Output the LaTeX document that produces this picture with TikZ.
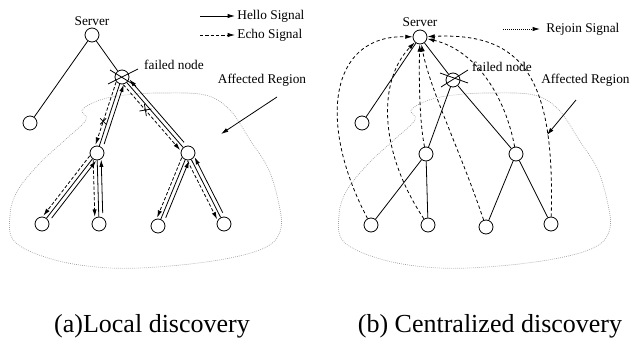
\documentclass[tikz,border=0pt]{standalone}
\usepackage{fontspec}
\setmainfont{Liberation Serif}
\usetikzlibrary{arrows.meta,calc}

\tikzset{every picture/.style={line width=0.6pt}}
\tikzset{
  tnode/.style={draw,circle,minimum size=10.5pt,inner sep=0pt},
  lbl/.style={inner sep=0.75pt,font=\fontsize{10}{12}\selectfont},
  captxt/.style={inner sep=0.75pt,font=\fontsize{19.5}{23}\selectfont},
  hello/.style={-{Latex[length=5.5pt,width=3.2pt]}},
  echo/.style={-{Latex[length=5.5pt,width=3.2pt]},dash pattern=on 2.5pt off 1.5pt},
  rejoin/.style={-{Latex[length=5.5pt,width=3.2pt]},dash pattern=on 2.5pt off 2pt},
  rejoinkey/.style={-{Latex[length=5.5pt,width=3.2pt]},dash pattern=on 0.7pt off 0.8pt},
  region/.style={gray!75,dash pattern=on 0.6pt off 0.9pt,line width=0.5pt},
}

% tree edge with hello (up) and echo (down) signals beside it
\newcommand{\sigpair}[3][0.5]{%
  \draw (#2) -- (#3);
  \draw[hello,shorten <=8pt,shorten >=5pt] ($(#3)!3pt!90:(#2)$) -- ($(#2)!3pt!-90:(#3)$);
  \draw[echo,shorten <=5pt,shorten >=5.5pt] ($(#2)!3pt!90:(#3)$) -- coordinate[pos=#1] (#2#3) ($(#3)!3pt!-90:(#2)$);
}
\newcommand{\regionpts}{(160,93) (205,95) (230,110) (250,140) (268,168) (278,200) (281,228) (268,246) (230,258) (170,266) (110,268) (55,260) (15,242) (10,215) (18,190) (40,163) (65,140) (86,120) (82,110) (100,100) (125,95)}

\begin{document}
\begin{tikzpicture}[x=0.75pt,y=0.75pt,yscale=-1,xscale=1]
	\useasboundingbox (0,0) rectangle (632,346);

	% (a) local discovery
	\draw[region] plot[smooth cycle,tension=0.6] coordinates {\regionpts};
	\node[tnode] (srvA) at (92,35) {};
	\node[tnode] (leafA0) at (30,123) {};
	\node[tnode] (failA) at (122,77) {};
	\node[tnode] (midA1) at (97,153) {};
	\node[tnode] (midA2) at (188,153) {};
	\node[tnode] (leafA1) at (42,224) {};
	\node[tnode] (leafA2) at (99,224) {};
	\node[tnode] (leafA3) at (158,226) {};
	\node[tnode] (leafA4) at (224,224) {};

	\draw (srvA) -- (leafA0);
	\draw (srvA) -- (failA);
	\draw ($(failA)+(-14,7)$) -- ($(failA)+(16,-8)$);
	\draw ($(failA)+(-12,-7)$) -- ($(failA)+(14,9)$);
	\sigpair[0.6]{failA}{midA1}
	\sigpair[0.4]{failA}{midA2}
	\sigpair{midA1}{leafA1}
	\sigpair{midA1}{leafA2}
	\sigpair{midA2}{leafA3}
	\sigpair{midA2}{leafA4}
	\draw ($(failAmidA1)+(-3,-3)$) -- ($(failAmidA1)+(3,3)$) ($(failAmidA1)+(-3,3)$) -- ($(failAmidA1)+(3,-3)$);
	\draw ($(failAmidA2)+(-6,1)$) -- ($(failAmidA2)+(6,-1)$) ($(failAmidA2)+(-1,-6)$) -- ($(failAmidA2)+(1,6)$);

	\node[lbl] (srvAlbl) at (92,21) {Server};
	\node[lbl] (failAlbl) at (174,65) {failed node};
	\node[lbl] (regAlbl) at (262,80) {Affected Region};
	\coordinate (regAs) at (277,97);
	\coordinate (regAe) at (221,134);
	\draw[hello] (regAs) -- (regAe);

	\coordinate (helloS) at (200,16);
	\coordinate (helloE) at (235,16);
	\draw[hello] (helloS) -- (helloE);
	\node[lbl,anchor=west] (hellolbl) at (236,16) {Hello Signal};
	\coordinate (echoS) at (200,35);
	\coordinate (echoE) at (235,35);
	\draw[echo] (echoS) -- (echoE);
	\node[lbl,anchor=west] (echolbl) at (236,35) {Echo Signal};

	% (b) centralized discovery
	\draw[region,shift={(329,0)}] plot[smooth cycle,tension=0.6] coordinates {\regionpts};
	\node[tnode] (srvB) at (420,37) {};
	\node[tnode] (leafB0) at (362,123) {};
	\node[tnode] (failB) at (453,80) {};
	\node[tnode] (midB1) at (426,154) {};
	\node[tnode] (midB2) at (516,154) {};
	\node[tnode] (leafB1) at (371,225) {};
	\node[tnode] (leafB2) at (428,225) {};
	\node[tnode] (leafB3) at (486,227) {};
	\node[tnode] (leafB4) at (551,224) {};

	\draw (srvB) -- (leafB0);
	\draw (srvB) -- (failB);
	\draw ($(failB)+(-13,-7)$) -- ($(failB)+(15,3)$);
	\draw ($(failB)+(-12,7)$) -- ($(failB)+(15,-10)$);
	\draw (failB) -- (midB1);
	\draw (failB) -- (midB2);
	\draw (midB1) -- (leafB1);
	\draw (midB1) -- (leafB2);
	\draw (midB2) -- (leafB3);
	\draw (midB2) -- (leafB4);

	\draw[rejoin] (leafB1) .. controls (318,125) and (328,35) .. (srvB);
	\draw[rejoin] (leafB2) .. controls (378,150) and (378,80) .. (srvB);
	\draw[rejoin] (midB1) .. controls (419,120) and (419,70) .. (srvB);
	\draw[rejoin] (leafB3) .. controls (460,150) and (430,90) .. (srvB);
	\draw[rejoin] (midB2) .. controls (505,95) and (475,50) .. (srvB);
	\draw[rejoin] (leafB4) .. controls (555,80) and (525,32) .. (srvB);

	\node[lbl] (srvBlbl) at (420,22) {Server};
	\node[lbl] (failBlbl) at (502,67) {failed node};
	\node[lbl,anchor=east] (regBlbl) at (631,80) {Affected Region};
	\coordinate (regBs) at (576,100);
	\coordinate (regBe) at (547,135);
	\draw[hello] (regBs) -- (regBe);

	\coordinate (rejoinS) at (503,29);
	\coordinate (rejoinE) at (540,29);
	\draw[rejoinkey] (rejoinS) -- (rejoinE);
	\node[lbl,anchor=west] (rejoinlbl) at (545,29) {Rejoin Signal};

	\node[captxt] (capA) at (152,326) {(a)Local discovery};
	\node[captxt] (capB) at (490,326) {(b) Centralized discovery};
\end{tikzpicture}
\end{document}
